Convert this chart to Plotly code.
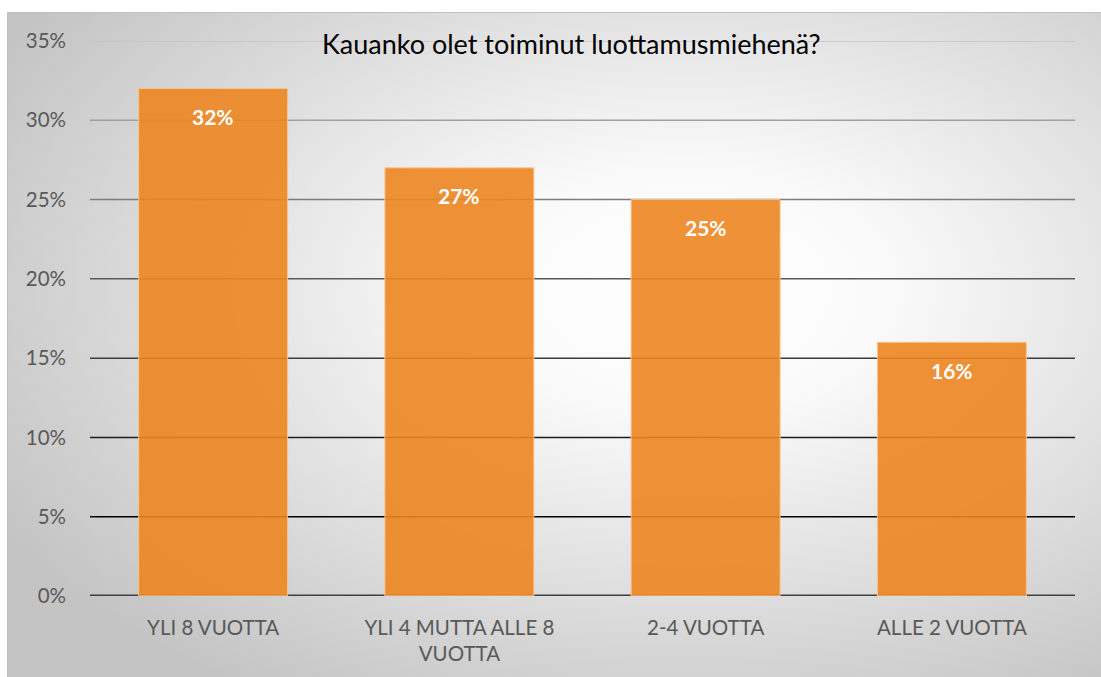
import base64
import plotly.graph_objects as go

categories = ["YLI 8 VUOTTA", "YLI 4 MUTTA ALLE 8<br>VUOTTA", "2-4 VUOTTA", "ALLE 2 VUOTTA"]
values = [32, 27, 25, 16]
label_texts = ["32%", "27%", "25%", "16%"]
tick_vals = [0, 5, 10, 15, 20, 25, 30, 35]
tick_text = ["0%", "5%", "10%", "15%", "20%", "25%", "30%", "35%"]
grid_colors = ["#404040", "#000000", "#1e1e1e", "#3c3c3c", "#5a5a5a", "#7c7c7c", "#a0a0a0", "#c4c4c4"]
title = "Kauanko olet toiminut luottamusmiehenä?"

W, H = 1101, 677
ML, MR, MT, MB = 90, 26, 41, 81
PW, PH = W - ML - MR, H - MT - MB
FONT = "Lato, Carlito, Calibri, sans-serif"

svg = f'''<svg xmlns="http://www.w3.org/2000/svg" width="1094" height="665" viewBox="0 0 1094 665" preserveAspectRatio="none">
<defs><radialGradient id="g" cx="0.62" cy="0.42" r="0.72" gradientUnits="objectBoundingBox">
<stop offset="0" stop-color="#ffffff"/><stop offset="0.25" stop-color="#fafafa"/><stop offset="1" stop-color="#c4c4c4"/></radialGradient></defs>
<rect x="0" y="0" width="1094" height="665" fill="url(#g)"/>
<line x1="0.5" y1="0" x2="0.5" y2="665" stroke="#c0c0c0" stroke-width="1"/>
<line x1="0" y1="0.5" x2="1094" y2="0.5" stroke="#c0c0c0" stroke-width="1"/>
</svg>'''
uri = "data:image/svg+xml;base64," + base64.b64encode(svg.encode()).decode()

fig = go.Figure()
fig.add_trace(go.Bar(
    x=categories, y=values,
    marker=dict(color="rgba(237,133,33,0.9)", line=dict(color="rgba(250,200,150,0.9)", width=1)),
    width=0.605, hoverinfo="skip",
))

for cat, v, t in zip(categories, values, label_texts):
    fig.add_annotation(x=cat, y=v, text=f"<b>{t}</b>", showarrow=False,
                       yshift=-28, font=dict(family=FONT, size=21, color="white"))

shapes = []
for tv, col in zip(tick_vals, grid_colors):
    shapes.append(dict(type="line", xref="paper", yref="y", x0=0, x1=1, y0=tv, y1=tv,
                       line=dict(color=col, width=3 if tv == 0 else 1.5), layer="below"))

fig.update_layout(
    width=W, height=H,
    margin=dict(l=ML, r=MR, t=MT, b=MB),
    paper_bgcolor="white", plot_bgcolor="rgba(0,0,0,0)",
    showlegend=False,
    font=dict(family=FONT, color="#595959", size=20),
    images=[dict(source=uri, xref="paper", yref="paper",
                 x=(7 - ML) / PW, y=(H - MB - 12) / PH,
                 sizex=(W - 7) / PW, sizey=(H - 12) / PH,
                 sizing="stretch", layer="below", xanchor="left", yanchor="top")],
    shapes=shapes,
    xaxis=dict(showgrid=False, zeroline=False, showline=False, ticks="",
               tickfont=dict(size=20.5, color="#595959"), ticklabelstandoff=17),
    yaxis=dict(range=[0, 35], tickvals=tick_vals, ticktext=tick_text, showgrid=False,
               zeroline=False, showline=False, ticks="", ticklabelstandoff=23,
               tickfont=dict(size=20.5, color="#595959")),
)
fig.add_annotation(xref="paper", yref="paper", x=(571 - ML) / PW, y=(H - MB - 44) / PH,
                   text=title, showarrow=False, xanchor="center", yanchor="middle",
                   font=dict(family=FONT, size=27, color="#000000"))
fig.write_html("out.html")
